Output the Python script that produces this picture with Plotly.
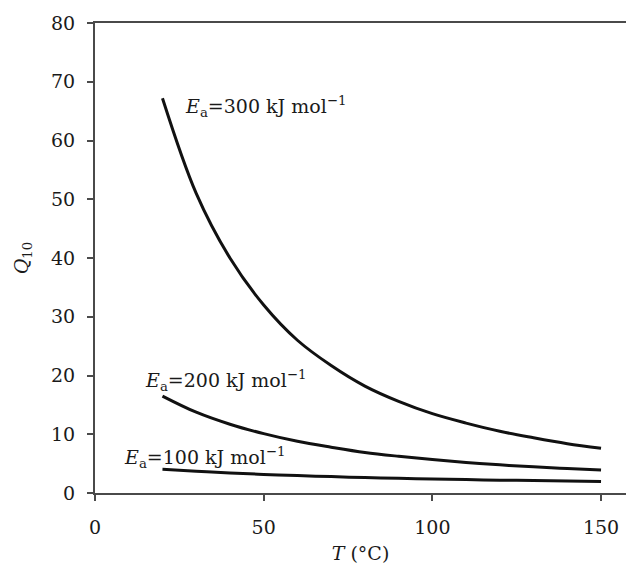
import plotly.graph_objects as go

# Temperature (°C)
temperature = [20, 30, 40, 50, 60, 70, 80, 90, 100, 110, 120, 130, 140, 150]
# Q10 values
q10_ea300 = [67.2, 51.0, 40.0, 32.0, 26.0, 21.7, 18.2, 15.6, 13.5, 11.9, 10.5, 9.4, 8.4, 7.6]
q10_ea200 = [16.5, 13.75, 11.7, 10.1, 8.8, 7.8, 6.9, 6.25, 5.7, 5.2, 4.8, 4.45, 4.15, 3.9]
q10_ea100 = [4.06, 3.71, 3.42, 3.17, 2.96, 2.79, 2.63, 2.5, 2.38, 2.28, 2.19, 2.11, 2.03, 1.97]

series = [
    ("E<sub>a</sub>=300", q10_ea300),
    ("E<sub>a</sub>=200", q10_ea200),
    ("E<sub>a</sub>=100", q10_ea100),
]
labels = [
    "<i>E</i><sub>a</sub>=300 kJ mol<sup>−1</sup>",
    "<i>E</i><sub>a</sub>=200 kJ mol<sup>−1</sup>",
    "<i>E</i><sub>a</sub>=100 kJ mol<sup>−1</sup>",
]
label_x = [26, 14.2, 8.0]
label_y = [65.8, 19.2, 6.1]

x_ticks = [0, 50, 100, 150]
y_ticks = [0, 10, 20, 30, 40, 50, 60, 70, 80]

FONT = "DejaVu Serif"
TEXT = "#1a1a1a"
AXIS = "#4a4a4a"

fig = go.Figure()
for name, ys in series:
    fig.add_trace(go.Scatter(
        x=temperature, y=ys, mode="lines", name=name,
        line=dict(color="#111111", width=3, shape="spline"),
        showlegend=False, hoverinfo="skip",
    ))

for txt, lx, ly in zip(labels, label_x, label_y):
    fig.add_annotation(
        x=lx, y=ly, xref="x", yref="y", text=txt, showarrow=False,
        xanchor="left", yanchor="middle",
        font=dict(family=FONT, size=19, color=TEXT),
    )

fig.update_layout(
    width=626, height=571,
    margin=dict(l=95, r=0, t=23, b=78),
    paper_bgcolor="white", plot_bgcolor="white",
    font=dict(family=FONT, size=18, color=TEXT),
    showlegend=False,
)
fig.update_xaxes(
    range=[0, 157.4], tickvals=x_ticks, ticktext=[str(v) for v in x_ticks],
    showgrid=False, zeroline=False,
    showline=True, linecolor=AXIS, linewidth=2, mirror=True,
    ticks="outside", ticklen=6, tickwidth=1.5, tickcolor=AXIS,
    ticklabelstandoff=10,
    tickfont=dict(family=FONT, size=19, color=TEXT),
    title=dict(text="<i>T</i> (°C)", font=dict(family=FONT, size=19, color=TEXT), standoff=10),
)
fig.update_yaxes(
    range=[0, 80], tickvals=y_ticks, ticktext=[str(v) for v in y_ticks],
    showgrid=False, zeroline=False,
    showline=True, linecolor=AXIS, linewidth=2, mirror=False,
    ticks="outside", ticklen=6, tickwidth=1.5, tickcolor=AXIS,
    ticklabelstandoff=8,
    tickfont=dict(family=FONT, size=19, color=TEXT),
    title=dict(text="<i>Q</i><sub>10</sub>", font=dict(family=FONT, size=19, color=TEXT), standoff=17),
)

fig.write_html("out.html")
